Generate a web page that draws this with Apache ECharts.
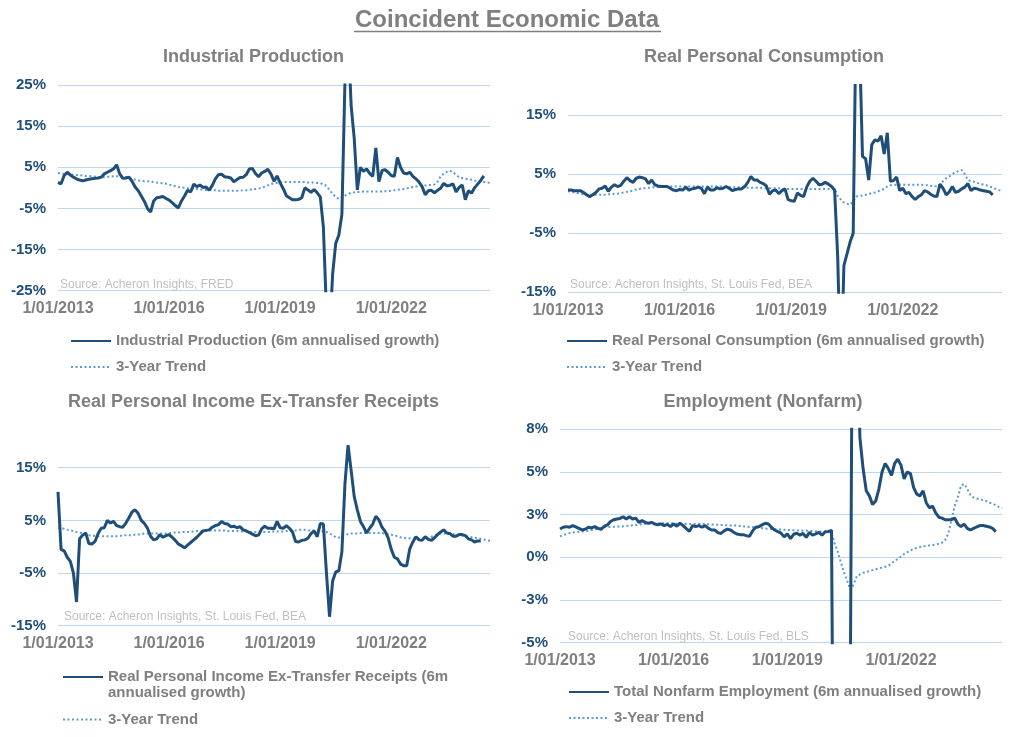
<!DOCTYPE html>
<html><head><meta charset="utf-8">
<script src="https://cdn.jsdelivr.net/npm/echarts@6/dist/echarts.min.js"></script>
<style>html,body{margin:0;padding:0;background:#fff}#c{width:1018px;height:737px}</style>
</head><body><div id="c"></div>
<script>
// Monthly categories, Jan 2013 .. Sep 2024
const months = [];
for (let i = 0; i < 141; i++) {
  months.push('1/' + String(i % 12 + 1).padStart(2, '0') + '/' + (2013 + Math.floor(i / 12)));
}

const ipGrowth = [1.3,1.0,3.0,3.8,3.1,2.6,2.2,1.9,1.7,1.9,
 2.1,2.2,2.3,2.4,2.6,3.4,3.8,4.2,4.6,5.6,
 3.4,2.3,2.4,2.6,1.6,0.2,-0.7,-2.0,-3.3,-5.0,
 -5.9,-3.2,-2.4,-2.3,-2.1,-2.6,-3.0,-3.6,-4.3,-4.9,
 -3.2,-2.0,-0.6,-1.0,0.9,0.3,0.7,0.1,0.2,-0.6,
 0.6,2.2,3.2,3.3,2.7,2.6,2.4,1.5,2.0,2.5,
 2.6,3.2,4.6,4.7,3.5,2.7,3.6,4.0,4.5,3.4,
 1.6,2.9,1.2,-0.2,-1.9,-2.4,-2.9,-2.9,-2.8,-2.4,
 0.0,-0.5,-1.1,-0.4,-1.2,-2.2,-9.5,-30,-36,-21,
 -13.5,-11.5,-6.5,26,38,20,12,-0.5,5.0,4.0,
 4.6,3.5,2.8,9.7,1.5,4.2,4.4,3.8,3.0,2.8,
 7.4,5.0,3.6,3.4,3.8,2.8,2.2,1.4,0.3,-1.7,
 -0.7,-0.6,-1.2,-0.6,-0.1,1.1,0.5,0.6,1.0,-1.0,
 0.1,0.7,-2.9,-0.7,-1.3,0.0,0.9,1.8,2.9];
const ipTrend = [3.6,3.5,3.4,3.4,3.3,3.2,3.1,3.1,3.0,
 2.9,2.9,2.8,2.7,2.6,
 2.6,2.6,2.7,2.7,2.8,2.8,2.8,
 2.7,2.6,2.4,2.2,2.0,1.8,
 1.7,1.6,1.6,1.5,1.4,
 1.3,1.2,1.1,1.0,
 0.8,0.6,0.4,0.2,0.1,
 0.0,-0.1,-0.2,-0.3,
 -0.3,-0.4,-0.4,-0.5,-0.5,-0.6,-0.6,-0.7,
 -0.7,-0.7,-0.7,-0.7,-0.7,
 -0.7,-0.7,-0.6,-0.6,
 -0.5,-0.4,-0.3,-0.2,0.0,
 0.3,0.6,0.9,1.1,
 1.2,1.3,1.4,1.4,1.4,1.4,1.4,1.4,
 1.4,1.4,1.3,1.3,1.3,1.2,1.2,
 0.8,0.5,-0.5,-1.5,
 -2.2,-2.7,-2.4,-1.9,
 -1.5,-1.2,-1.1,-1.0,-1.0,-0.9,-0.9,
 -0.9,-0.9,-0.9,-0.9,-0.9,-0.8,-0.8,-0.7,
 -0.6,-0.5,-0.4,-0.3,-0.1,0.0,0.2,0.3,0.5,
 0.6,0.6,0.7,0.7,0.8,1.5,
 2.8,3.4,3.9,4.2,
 3.8,3.2,2.6,2.4,2.2,2.1,2.0,
 1.8,1.7,1.5,1.4,1.3,1.2];

const pceGrowth = [2.3,2.3,2.2,2.2,2.2,1.9,1.5,1.2,1.5,1.9,
 2.5,2.6,3.0,2.1,2.8,3.2,2.9,3.1,3.8,4.4,
 3.9,3.6,4.3,4.5,4.4,4.2,3.4,4.0,3.2,3.0,
 2.9,2.9,2.9,2.6,2.3,2.2,2.4,2.3,2.8,2.3,
 2.5,2.6,2.8,2.6,1.7,2.8,2.3,2.3,2.7,2.5,
 2.6,2.9,2.6,2.2,2.4,2.5,2.5,2.9,3.6,4.6,
 4.0,4.0,3.6,3.4,3.0,1.6,2.2,2.3,1.7,2.2,
 2.5,0.7,0.5,0.4,1.8,1.4,1.2,2.8,3.8,4.3,
 3.8,3.2,3.3,3.6,3.3,2.9,2.3,-9,-30,-10.5,
 -8.5,-6.5,-5.0,35,28,8.0,7.6,4.0,10.0,10.8,
 10.6,11.5,8.4,12.0,3.8,3.9,4.5,2.2,2.6,1.7,
 1.9,1.2,0.7,1.2,1.5,2.2,2.0,1.6,1.3,1.2,
 3.3,2.6,1.5,2.0,2.9,1.9,2.1,2.5,2.8,3.4,
 2.2,2.6,2.5,2.3,2.2,2.1,2.0,1.5];
const pceTrend = [2.1,2.0,1.9,1.8,1.7,1.6,1.5,
 1.5,1.5,1.5,1.5,1.5,1.5,
 1.6,1.6,1.7,1.7,1.8,
 1.9,2.0,2.1,2.2,2.4,2.5,
 2.6,2.6,2.7,2.7,2.8,
 2.8,2.8,2.9,2.9,2.9,
 2.9,2.9,2.9,2.9,2.9,2.9,2.9,2.9,2.9,2.9,2.9,
 2.9,2.9,2.9,2.9,2.9,2.9,2.8,2.8,2.8,2.8,2.8,
 2.8,2.8,2.7,2.7,2.7,2.7,2.7,2.6,2.6,2.6,2.6,
 2.6,2.6,2.5,2.5,2.5,2.5,2.5,2.5,2.5,2.5,2.5,2.5,2.5,2.5,2.5,2.5,2.5,2.5,2.5,2.5,
 1.3,0.7,0.2,0.0,-0.2,0.4,1.2,1.3,1.4,1.5,1.6,1.8,1.9,2.1,2.3,2.5,2.9,3.1,
 3.2,3.2,3.2,3.2,3.2,3.2,3.2,3.2,3.2,3.2,3.1,3.1,3.0,3.0,2.9,
 3.3,3.8,4.3,4.6,5.0,5.3,5.5,5.7,5.0,4.0,3.8,3.7,3.5,3.4,3.2,3.1,2.9,2.7,2.5,2.3,2.1];

const incGrowth = [10.4,-0.5,-0.8,-2.0,-2.8,-5.0,-10.5,1.5,2.2,2.6,
 0.6,0.5,1.0,2.5,3.5,3.6,5.0,4.5,4.8,4.0,
 3.8,3.7,4.5,5.5,6.6,7.0,6.3,5.0,4.4,3.5,
 2.0,1.3,1.5,2.3,1.8,2.1,2.3,1.8,1.2,0.5,
 0.2,-0.2,0.3,0.8,1.3,1.8,2.4,3.0,3.1,3.2,
 3.7,4.0,4.2,4.8,4.4,4.3,3.8,3.9,3.6,3.8,
 3.2,3.0,2.7,2.4,2.1,2.2,3.4,3.9,3.5,3.5,
 3.4,4.8,3.6,3.5,4.0,3.5,2.8,1.0,0.9,1.2,
 1.3,1.6,2.5,3.0,1.9,4.4,4.3,-5.0,-13.3,-6.5,
 -4.8,-4.6,-1.0,12.0,19.3,14.5,9.5,7.0,4.8,3.8,
 2.6,3.5,4.3,5.8,5.1,3.7,2.9,1.7,-0.5,-2.0,
 -2.3,-3.3,-3.6,-3.6,-0.4,0.9,1.9,1.3,1.2,1.9,
 1.4,1.2,1.7,2.3,2.8,3.2,2.6,2.5,2.0,2.0,
 2.3,2.3,2.1,1.5,1.3,0.9,1.1,1.1];
const incTrend = [3.6,3.5,3.4,3.2,3.1,3.0,2.8,
 2.7,2.5,2.3,2.2,2.1,2.1,2.0,
 2.0,2.0,2.0,2.0,2.0,2.0,2.1,2.1,2.2,2.2,2.2,
 2.3,2.3,2.4,2.5,2.5,2.5,2.5,2.5,2.5,2.5,2.5,
 2.6,2.6,2.7,2.7,2.8,2.8,2.8,2.9,2.9,3.0,3.0,
 3.0,3.0,3.1,3.1,3.1,3.1,3.1,3.1,3.0,3.0,3.0,
 3.0,2.9,2.9,2.9,2.8,2.8,2.8,2.8,2.8,2.8,2.8,
 2.8,2.9,2.9,2.9,2.9,3.0,3.0,3.1,3.1,3.2,3.2,
 3.2,3.1,3.1,3.1,3.1,3.0,2.9,2.8,2.5,
 2.2,1.8,1.7,2.0,2.2,2.4,2.5,
 2.5,2.5,2.6,2.6,2.6,2.6,2.6,2.6,2.6,2.6,
 2.5,2.4,2.3,2.1,2.0,1.8,1.7,1.6,1.6,1.5,
 1.5,1.5,1.5,1.6,1.7,1.9,2.1,2.3,2.5,2.5,2.5,
 2.4,2.4,2.3,2.2,2.1,2.0,1.9,1.8,1.7,1.6,1.5,1.4,1.2,1.1];

const empGrowth = [1.66,1.76,1.8,1.76,1.86,1.78,1.7,1.6,1.65,1.76,
 1.72,1.8,1.7,1.64,1.82,1.9,2.1,2.2,2.25,2.28,
 2.38,2.25,2.38,2.25,2.3,2.05,2.15,2.05,2.0,2.05,
 1.95,1.9,1.96,1.86,1.93,1.8,1.96,1.82,2.0,1.86,
 1.68,1.52,1.86,1.8,1.86,1.76,1.86,1.7,1.6,1.6,
 1.45,1.4,1.55,1.65,1.6,1.47,1.37,1.33,1.33,1.27,
 1.23,1.55,1.76,1.8,1.9,2.0,1.95,1.76,1.6,1.5,
 1.42,1.2,1.37,1.1,1.35,1.41,1.3,1.4,1.17,1.46,
 1.3,1.37,1.46,1.3,1.5,1.52,1.58,-26,-22,-18,
 -14,-10,-6,30,14,7.0,5.2,3.9,3.6,3.1,
 3.3,4.0,5.0,5.5,5.2,4.8,5.5,5.75,5.4,4.6,
 5.0,4.9,4.1,3.7,3.6,3.9,3.2,2.9,3.0,2.6,
 2.35,2.3,2.2,2.2,2.2,2.3,1.95,1.8,1.95,1.7,
 1.6,1.7,1.78,1.86,1.86,1.82,1.78,1.7,1.5];
const empTrend = [1.23,1.30,1.36,1.42,1.46,
 1.48,1.50,1.52,1.54,1.56,
 1.60,1.64,1.68,1.72,1.76,
 1.77,1.78,1.79,1.80,1.80,
 1.82,1.84,1.86,1.88,1.90,
 1.92,1.94,1.96,1.98,2.0,2.0,
 2.0,2.0,2.0,2.0,2.0,1.98,1.97,1.96,1.95,1.95,
 1.95,1.95,1.95,1.95,1.95,1.95,1.94,1.93,1.92,1.91,1.90,
 1.89,1.88,1.87,1.86,1.86,1.84,1.82,1.80,1.78,1.76,1.75,
 1.73,1.71,1.69,1.67,1.66,1.65,1.64,1.63,1.62,1.60,
 1.60,1.59,1.58,1.57,1.56,1.56,1.55,1.54,1.53,1.52,1.51,1.50,1.48,1.46,
 0.8,0.3,-0.3,-0.9,-1.4,-1.9,-1.6,-1.1,-1.0,-0.9,-0.87,-0.8,
 -0.75,-0.7,-0.65,-0.6,-0.55,-0.5,-0.35,-0.2,-0.1,0.05,0.2,0.3,
 0.4,0.5,0.55,0.6,0.65,0.67,0.7,0.72,0.75,0.8,0.85,1.0,
 1.4,2.2,3.0,3.5,4.2,4.3,4.0,3.65,3.5,3.45,3.4,3.35,
 3.3,3.2,3.15,3.05,2.95,2.87];

const ipTicks = [-25, -15, -5, 5, 15, 25];
const pceTicks = [-15, -5, 5, 15];
const incTicks = [-15, -5, 5, 15];
const empTicks = [-5, -2.5, 0, 2.5, 5, 7.5];
const empTickLabels = ['-5%', '-3%', '0%', '3%', '5%', '8%'];

const names = {
  ip: 'Industrial Production (6m annualised growth)',
  pce: 'Real Personal Consumption (6m annualised growth)',
  inc: 'Real Personal Income Ex-Transfer Receipts (6m annualised growth)',
  emp: 'Total Nonfarm Employment (6m annualised growth)',
  trend: '3-Year Trend'
};

const FONT = 'Liberation Sans, Arial, sans-serif';
const GRAY = '#7F7F7F';
const NAVY = '#1F4E79';
const LIGHT = '#5B9BD5';
const GRID = '#BDD7EE';

function xAxis(gi) {
  return {
    type: 'category', gridIndex: gi, data: months, boundaryGap: false,
    axisLine: {show: false}, axisTick: {show: false}, splitLine: {show: false},
    axisLabel: {
      interval: function (idx) { return idx % 36 === 0; },
      color: GRAY, fontFamily: FONT, fontSize: 16, fontWeight: 'bold', margin: 10
    }
  };
}
function yAxis(gi, min, max, interval, colors, fmt) {
  return {
    type: 'value', gridIndex: gi, min: min, max: max, interval: interval,
    axisLine: {show: false}, axisTick: {show: false},
    splitLine: {show: true, lineStyle: {color: colors, width: 1}},
    axisLabel: {
      formatter: fmt, showMinLabel: true, showMaxLabel: true,
      color: NAVY, fontFamily: FONT, fontSize: 15, fontWeight: 'bold', margin: 12
    }
  };
}
const alt = [GRID, 'rgba(0,0,0,0)'];
function pctIn(ticks) {
  return function (v) { return ticks.indexOf(v) >= 0 ? v + '%' : ''; };
}
function mainSeries(name, gi, data) {
  return {name: name, type: 'line', xAxisIndex: gi, yAxisIndex: gi, data: data,
    symbol: 'none', showSymbol: false, z: 3, clip: true,
    lineStyle: {color: NAVY, width: 3}, itemStyle: {color: NAVY}};
}
function trendSeries(gi, data) {
  return {name: names.trend, type: 'line', xAxisIndex: gi, yAxisIndex: gi, data: data,
    symbol: 'none', showSymbol: false, z: 2, clip: true,
    lineStyle: {color: LIGHT, width: 2, type: [2, 2.5]}, itemStyle: {color: LIGHT}};
}
function legend(data, left, top, gap, lh, extra) {
  const l = {
    data: data, orient: 'vertical', left: left, top: top,
    padding: 0, itemWidth: 40, itemHeight: 14, itemGap: gap, selectedMode: false,
    itemStyle: {opacity: 0},
    textStyle: {color: GRAY, fontFamily: FONT, fontSize: 15, fontWeight: 'bold', lineHeight: lh}
  };
  if (extra) Object.assign(l, extra);
  return l;
}
function ttl(text, x, y, size, bold, color, align) {
  return {text: text, left: x, top: y, padding: 0, textAlign: align,
    textStyle: {color: color, fontFamily: FONT, fontSize: size, fontWeight: bold ? 'bold' : 'normal'}};
}

const option = {
  backgroundColor: '#ffffff',
  animation: false,
  title: [
    ttl('Coincident Economic Data', 507, 8, 24, true, GRAY, 'center'),
    ttl('Industrial Production', 253.5, 48, 18, true, GRAY, 'center'),
    ttl('Real Personal Consumption', 764, 48, 18, true, GRAY, 'center'),
    ttl('Real Personal Income Ex-Transfer Receipts', 253.5, 393.5, 18, true, GRAY, 'center'),
    ttl('Employment (Nonfarm)', 763, 393.5, 18, true, GRAY, 'center'),
    ttl('Source: Acheron Insights, FRED', 60, 279, 12, false, '#BFBFBF', 'left'),
    ttl('Source: Acheron Insights, St. Louis Fed, BEA', 570, 279, 12, false, '#BFBFBF', 'left'),
    ttl('Source: Acheron Insights, St. Louis Fed, BEA', 64, 611, 12, false, '#BFBFBF', 'left'),
    ttl('Source: Acheron Insights, St. Louis Fed, BLS', 568, 631, 12, false, '#BFBFBF', 'left')
  ],
  graphic: [{
    type: 'line', shape: {x1: 354, y1: 31.5, x2: 661, y2: 31.5},
    style: {stroke: GRAY, lineWidth: 1.5}, silent: true
  }],
  legend: [
    legend([names.ip, names.trend], 70, 332.5, 9, 17),
    legend([names.pce, names.trend], 566, 332.5, 9, 17),
    legend([names.inc], 62, 653, 0, 16, {
      formatter: function (n) { return '\n' + n.replace(' annualised', '\nannualised'); }
    }),
    legend([names.trend], 62, 711, 0, 17),
    legend([names.emp, names.trend], 568, 683.5, 9, 17)
  ],
  grid: [
    {left: 58, top: 85, width: 432, height: 205.7, outerBoundsMode: 'none', containLabel: false},
    {left: 568, top: 85.5, width: 434, height: 206.8, outerBoundsMode: 'none', containLabel: false},
    {left: 58, top: 441.4, width: 432, height: 184.3, outerBoundsMode: 'none', containLabel: false},
    {left: 560, top: 429.3, width: 442, height: 213.4, outerBoundsMode: 'none', containLabel: false}
  ],
  xAxis: [xAxis(0), xAxis(1), xAxis(2), xAxis(3)],
  yAxis: [
    yAxis(0, -25, 25, 5, alt, pctIn(ipTicks)),
    yAxis(1, -15, 20, 5, alt, pctIn(pceTicks)),
    yAxis(2, -15, 20, 5, alt, pctIn(incTicks)),
    yAxis(3, -5, 7.5, 2.5, GRID, function (v) {
      const k = empTicks.indexOf(v); return k >= 0 ? empTickLabels[k] : '';
    })
  ],
  series: [
    mainSeries(names.ip, 0, ipGrowth), trendSeries(0, ipTrend),
    mainSeries(names.pce, 1, pceGrowth), trendSeries(1, pceTrend),
    mainSeries(names.inc, 2, incGrowth), trendSeries(2, incTrend),
    mainSeries(names.emp, 3, empGrowth), trendSeries(3, empTrend)
  ]
};

const chart = echarts.init(document.getElementById('c'), null, {renderer: 'canvas', width: 1018, height: 737});
chart.setOption(option);
</script>
</body></html>
